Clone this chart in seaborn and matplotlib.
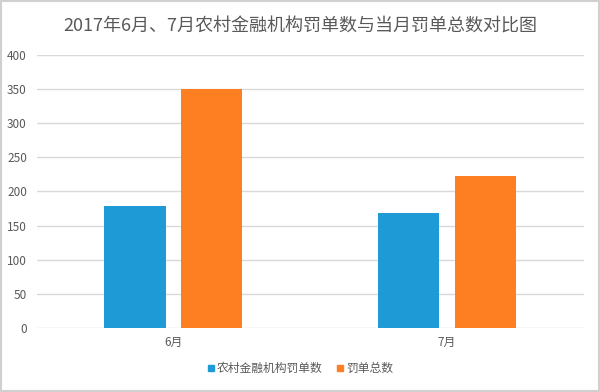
import matplotlib
matplotlib.use("Agg")
import matplotlib.pyplot as plt
import seaborn as sns
import pandas as pd
from matplotlib.lines import Line2D

months = ["6月", "7月"]
series_names = ["农村金融机构罚单数", "罚单总数"]
rural_fines = [179, 168]
total_fines = [350, 223]
yticks = [0, 50, 100, 150, 200, 250, 300, 350, 400]
colors = ["#1E9BD7", "#FE7F22"]

df = pd.DataFrame({
    "month": months * 2,
    "series": [series_names[0]] * 2 + [series_names[1]] * 2,
    "value": rural_fines + total_fines,
})

sns.set_theme(style="white")
plt.rcParams['font.family'] = ['Noto Sans CJK SC', 'DejaVu Sans']

fig = plt.figure(figsize=(6, 3.92), dpi=100)
ax = fig.add_axes([0.061, 0.163, 0.912, 0.697])
sns.barplot(data=df, x="month", y="value", hue="series", palette=colors,
            width=0.56, gap=0.2, ax=ax, legend=False, saturation=1, linewidth=0)

ax.set_ylim(0, 400)
ax.set_xlim(-0.5, 1.5)
ax.set_yticks(yticks)
ax.set_yticklabels([str(v) for v in yticks])
ax.yaxis.grid(True, color="#d9d9d9", linewidth=1)
ax.set_axisbelow(True)
for s in ax.spines.values():
    s.set_visible(False)
ax.tick_params(axis="both", length=0, colors="#595959", labelsize=8.5)
ax.tick_params(axis="y", pad=7)
ax.tick_params(axis="x", pad=6)
ax.set_xlabel("")
ax.set_ylabel("")

fig.suptitle("2017年6月、7月农村金融机构罚单数与当月罚单总数对比图",
             y=0.955, fontsize=13, color="#595959")

handles = [Line2D([0], [0], marker="s", linestyle="", markersize=5,
                  markerfacecolor=c, markeredgecolor=c) for c in colors]
fig.legend(handles, series_names, loc="center", bbox_to_anchor=(0.5, 0.06),
           ncol=2, frameon=False, fontsize=8.5, labelcolor="#595959",
           handlelength=0.6, handletextpad=0.2, columnspacing=1.2)

fig.patches.append(plt.Rectangle((0.002, 0.002), 0.996, 0.996, transform=fig.transFigure,
                                 fill=False, edgecolor="#d0d0d0", linewidth=1.5))
fig.savefig("out.png", dpi=100)
